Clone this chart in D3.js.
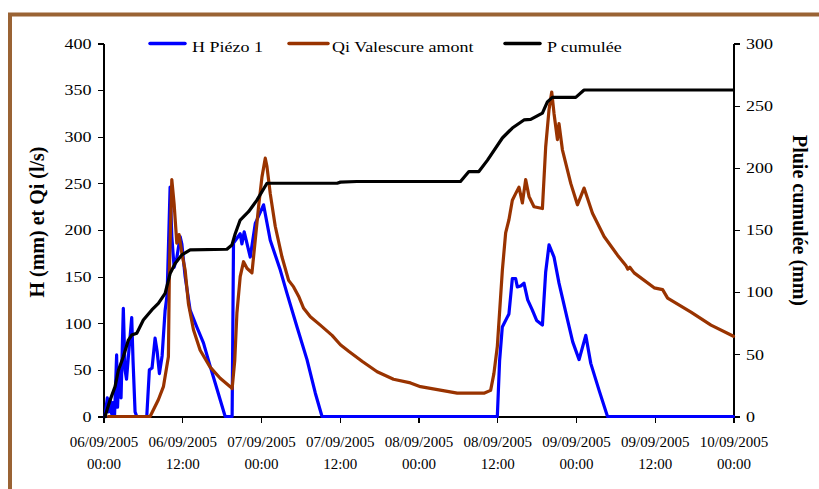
<!DOCTYPE html>
<html>
<head>
<meta charset="utf-8">
<script src="https://cdn.jsdelivr.net/npm/d3@7"></script>
<style>
  html, body { margin: 0; padding: 0; background: #fff; }
  svg { display: block; }
  .axis path, .axis line { stroke: #000; stroke-width: 1.2; shape-rendering: crispEdges; }
</style>
</head>
<body>
<svg id="chart" width="819" height="489"></svg>
<script>
// Hours since 06/09/2005 00:00.
const hTime = [0.23, 0.58, 0.76, 1.0, 1.22, 1.45, 1.68, 2.0, 2.14, 2.37, 2.67, 3.02, 3.28, 3.51, 3.74, 4.3, 4.5, 4.81, 5.07,
  6.59, 6.99, 7.4, 7.86, 8.17, 8.52, 8.93, 9.39, 9.69, 10.15, 10.41, 10.76, 11.17, 11.68, 11.94, 12.44, 13.2, 14.22,
  15.23, 16.25, 17.02, 17.78, 18.54, 19.6, 19.81, 20.83, 21.09, 21.44, 22.36, 23.13, 24.39, 25.41, 26.94, 27.96,
  29.49, 31.01, 32.28, 33.3, 60.01, 60.36, 60.77, 61.78, 62.3, 62.8, 63.06, 63.57, 64.07, 64.64, 65.35, 66.0, 66.88,
  67.38, 67.89, 68.65, 69.41, 70.7, 71.5, 72.47, 73.49, 74.25, 75.52, 76.8, 96];
const hVals = [0, 20, 5, 18, 3, 15, 0, 66, 10, 50, 20, 116, 50, 40, 60, 106, 60, 5, 0,
  0, 50, 52, 84, 70, 46, 65, 114, 130, 246, 193, 160, 170, 193, 185, 150, 114, 96,
  79, 54, 36, 18, 0, 0, 186, 196, 185, 198, 171, 207, 227, 189, 157, 132,
  96, 61, 25, 0, 0, 60, 96, 110, 148, 148, 139, 140, 143, 125, 114, 103, 98,
  155, 184, 171, 143, 104, 80, 61, 87, 57, 28, 0, 0];

const qTime = [0.73, 7.1, 8.36, 9.13, 9.89, 10.04, 10.41, 10.76, 11.17, 11.52, 11.94, 12.44, 12.94, 13.71, 14.73,
  16.25, 17.78, 19.31, 19.6, 20.0, 20.33, 20.83, 21.34, 21.86, 22.62, 23.12, 23.63, 24.15, 24.65, 24.91, 25.41,
  26.17, 27.2, 28.21, 28.97, 29.73, 30.5, 31.52, 33.04, 34.83, 36.1, 37.36, 39.45, 41.7, 44.19, 46.78, 48.3, 53.9,
  57.97, 58.99, 59.49, 60.01, 60.78, 61.28, 61.78, 62.3, 62.8, 63.31, 63.83, 64.33, 64.84, 65.6, 66.88, 67.38,
  67.89, 68.3, 68.65, 69.17, 69.41, 69.93, 71.2, 72.22, 73.23, 74.51, 76.28, 78.33, 79.6, 79.9, 80.2, 80.86,
  83.91, 85.2, 85.96, 89.52, 92.57, 96];
const qVals = [0, 0, 18, 32, 64, 157, 254, 228, 186, 195, 175, 157, 121, 93, 71,
  53, 41, 32, 30, 60, 111, 150, 166, 159, 154, 189, 225, 257, 277, 268, 239,
  204, 171, 146, 139, 129, 116, 107, 98, 87, 77, 70, 59, 48, 40, 36, 32, 25,
  25, 28, 46, 75, 157, 197, 211, 232, 239, 246, 229, 254, 236, 225, 223, 289,
  329, 348, 325, 297, 314, 286, 250, 227, 245, 218, 193, 173, 162, 158, 160, 154,
  138, 136, 127, 112, 98, 86];

const pTime = [0.23, 0.99, 1.76, 2.26, 3.02, 3.79, 4.3, 5.07, 6.07, 7.36, 8.36, 9.39, 10.15, 10.91, 11.94, 13.2,
  18.8, 19.57, 20.07, 20.83, 22.1, 23.38, 24.91, 35.6, 36.1, 38.6, 54.4, 55.68, 57.2, 58.49, 60.78, 62.3, 64.07,
  65.1, 66.88, 67.64, 68.4, 71.96, 73.23, 96];
const pVals = [0, 13, 24, 37, 48, 61.5, 65.5, 67, 77.6, 85.7, 91, 99, 115, 123, 130, 134,
  134.5, 138, 147, 158, 164.7, 174, 187.6, 187.6, 188.5, 189, 189, 197, 197, 206, 224, 232, 238.5,
  239, 244, 253, 256.7, 256.7, 262.6, 262.6];

const leftTicks = [0, 50, 100, 150, 200, 250, 300, 350, 400];
const rightTicks = [0, 50, 100, 150, 200, 250, 300];
const xTickHours = [0, 12, 24, 36, 48, 60, 72, 84, 96];

const seriesNames = ["H Piézo 1", "Qi Valescure amont", "P cumulée"];
const seriesColors = ["#0000ff", "#993300", "#000000"];

const FONT = "'Liberation Serif', 'Times New Roman', Times, serif";

const t0 = new Date(2005, 8, 6, 0, 0);
const toDate = (h) => new Date(t0.getTime() + h * 3600e3);

const svg = d3.select("#chart").attr("font-family", FONT);

// Brown frame, clipped by the picture on the right and bottom.
svg.append("rect")
  .attr("x", 10).attr("y", 14.5).attr("width", 900).attr("height", 600)
  .attr("fill", "none").attr("stroke", "#9a6334").attr("stroke-width", 4);

const x = d3.scaleTime().domain([toDate(0), toDate(96)]).range([103.5, 733.5]);
const yL = d3.scaleLinear().domain([0, 400]).range([416.5, 43.5]);
const yR = d3.scaleLinear().domain([0, 300]).range([416.5, 43.5]);

// Axes (d3 puts sans-serif on the axis group, so reset it afterwards)
const fmtDay = d3.timeFormat("%d/%m/%Y");
const fmtHour = d3.timeFormat("%H:%M");

const gx = svg.append("g").attr("class", "axis")
  .attr("transform", `translate(0,${yL(0)})`)
  .call(d3.axisBottom(x).tickValues(xTickHours.map(toDate)).tickSize(6).tickSizeOuter(0).tickFormat(""))
  .attr("font-family", FONT).attr("font-size", 15);
gx.selectAll(".tick").append("text")
  .attr("text-anchor", "middle")
  .attr("fill", "#000")
  .attr("y", 30)
  .each(function (d) {
    const t = d3.select(this);
    t.append("tspan").attr("x", 0).text(fmtDay(d));
    t.append("tspan").attr("x", 0).attr("dy", 22.5).text(fmtHour(d));
  });

const gl = svg.append("g").attr("class", "axis")
  .attr("transform", `translate(${x.range()[0]},0)`)
  .call(d3.axisLeft(yL).tickValues(leftTicks).tickSize(6).tickSizeOuter(0))
  .attr("font-family", FONT).attr("font-size", 15);
gl.selectAll(".tick text").attr("fill", "#000").attr("x", -10).attr("transform", "scale(1.2,1)");

const gr = svg.append("g").attr("class", "axis")
  .attr("transform", `translate(${x.range()[1]},0)`)
  .call(d3.axisRight(yR).tickValues(rightTicks).tickSize(6).tickSizeOuter(0))
  .attr("font-family", FONT).attr("font-size", 15);
gr.selectAll(".tick text").attr("fill", "#000").attr("x", 10.4).attr("transform", "scale(1.2,1)");

// Axis titles
svg.append("text")
  .attr("transform", "translate(43.5,222) rotate(-90)")
  .attr("text-anchor", "middle")
  .attr("font-size", 20).attr("font-weight", "bold")
  .text("H (mm) et Qi (l/s)");
svg.append("text")
  .attr("transform", "translate(793,220.5) rotate(90)")
  .attr("text-anchor", "middle")
  .attr("font-size", 20).attr("font-weight", "bold")
  .text("Pluie cumulée (mm)");

// Series lines
const lineL = d3.line().x((d) => x(toDate(d[0]))).y((d) => yL(d[1]));
const lineR = d3.line().x((d) => x(toDate(d[0]))).y((d) => yR(d[1]));

const plot = svg.append("g").attr("fill", "none").attr("stroke-width", 3.2)
  .attr("stroke-linejoin", "round").attr("stroke-linecap", "round");
plot.append("path").datum(d3.zip(hTime, hVals)).attr("stroke", seriesColors[0]).attr("d", lineL);
plot.append("path").datum(d3.zip(qTime, qVals)).attr("stroke", seriesColors[1]).attr("d", lineL);
plot.append("path").datum(d3.zip(pTime, pVals)).attr("stroke", seriesColors[2]).attr("d", lineR);

// Legend
const legendLines = [[150, 185], [289, 328], [505, 540]];
const legendTextX = [192, 332, 547];
const legend = svg.append("g");
seriesNames.forEach((name, i) => {
  legend.append("line")
    .attr("x1", legendLines[i][0]).attr("x2", legendLines[i][1])
    .attr("y1", 43.5).attr("y2", 43.5)
    .attr("stroke", seriesColors[i]).attr("stroke-width", 3.5).attr("stroke-linecap", "round");
  legend.append("text")
    .attr("transform", `translate(${legendTextX[i]},52) scale(1.2,1)`)
    .attr("font-size", 15)
    .text(name);
});
</script>
</body>
</html>
